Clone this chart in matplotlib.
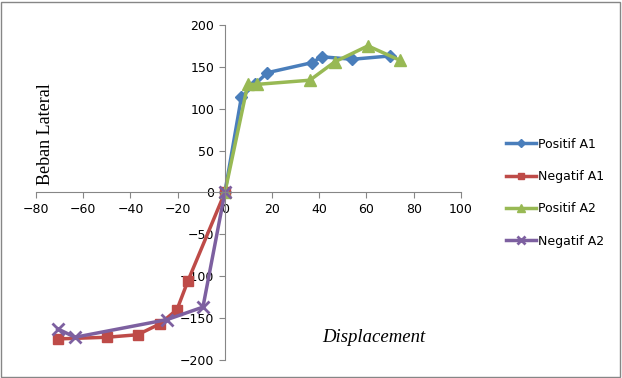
import matplotlib
matplotlib.use("Agg")
import matplotlib.pyplot as plt
from matplotlib.patches import Rectangle

# data
pos_a1_x = [0, 7, 12.7, 18, 37, 41, 54, 70]
pos_a1_y = [0, 114, 129, 143, 155, 162, 159, 163]
neg_a1_x = [0, -15.7, -20.3, -27.5, -37, -50, -70.8]
neg_a1_y = [0, -106, -140, -157, -170, -173, -175]
pos_a2_x = [0, 9.7, 13.5, 36, 46.6, 60.6, 74]
pos_a2_y = [0, 129, 129, 134, 156, 175, 158]
neg_a2_x = [0, -9.3, -24.6, -63.5, -70.8]
neg_a2_y = [0, -137, -152, -173, -163]

series = [
    ("Positif A1", pos_a1_x, pos_a1_y, "#4a7ebb", "D", 6),
    ("Negatif A1", neg_a1_x, neg_a1_y, "#be4b48", "s", 7),
    ("Positif A2", pos_a2_x, pos_a2_y, "#98b954", "^", 8),
    ("Negatif A2", neg_a2_x, neg_a2_y, "#7d60a0", "x", 8),
]

fig = plt.figure(figsize=(6.22, 3.78), dpi=100)
ax = fig.add_axes([0.058, 0.048, 0.683, 0.886])

for name, xs, ys, col, mk, ms in series:
    ax.plot(xs, ys, color=col, lw=2.5, marker=mk, ms=ms, mew=2 if mk == "x" else 1,
            mec=col, mfc=col, label=name)

ax.set_xlim(-80, 100)
ax.set_ylim(-200, 200)
ax.set_xticks(range(-80, 101, 20))
ax.set_yticks(range(-200, 201, 50))
ax.spines["left"].set_position(("data", 0))
ax.spines["bottom"].set_position(("data", 0))
ax.spines["top"].set_visible(False)
ax.spines["right"].set_visible(False)
for s in ("left", "bottom"):
    ax.spines[s].set_color("#868686")
ax.tick_params(colors="#868686", labelcolor="black", labelsize=9, length=4)
ax.patch.set_alpha(0)

ax.text(-76, 70, "Beban Lateral", rotation=90, fontsize=13, family="Liberation Serif",
        ha="center", va="center")
ax.text(63, -173, "Displacement", fontsize=13.5, family="Liberation Serif", style="italic",
        ha="center", va="center")

fig.legend(loc="center left", bbox_to_anchor=(0.795, 0.49), frameon=False, fontsize=9,
           labelspacing=1.55, handlelength=2.4, handletextpad=0.15, markerscale=0.7)

fig.patches.append(Rectangle((0.002, 0.003), 0.995, 0.993, transform=fig.transFigure,
                             fill=False, ec="#868686", lw=1))

fig.savefig("out.png", dpi=100)
